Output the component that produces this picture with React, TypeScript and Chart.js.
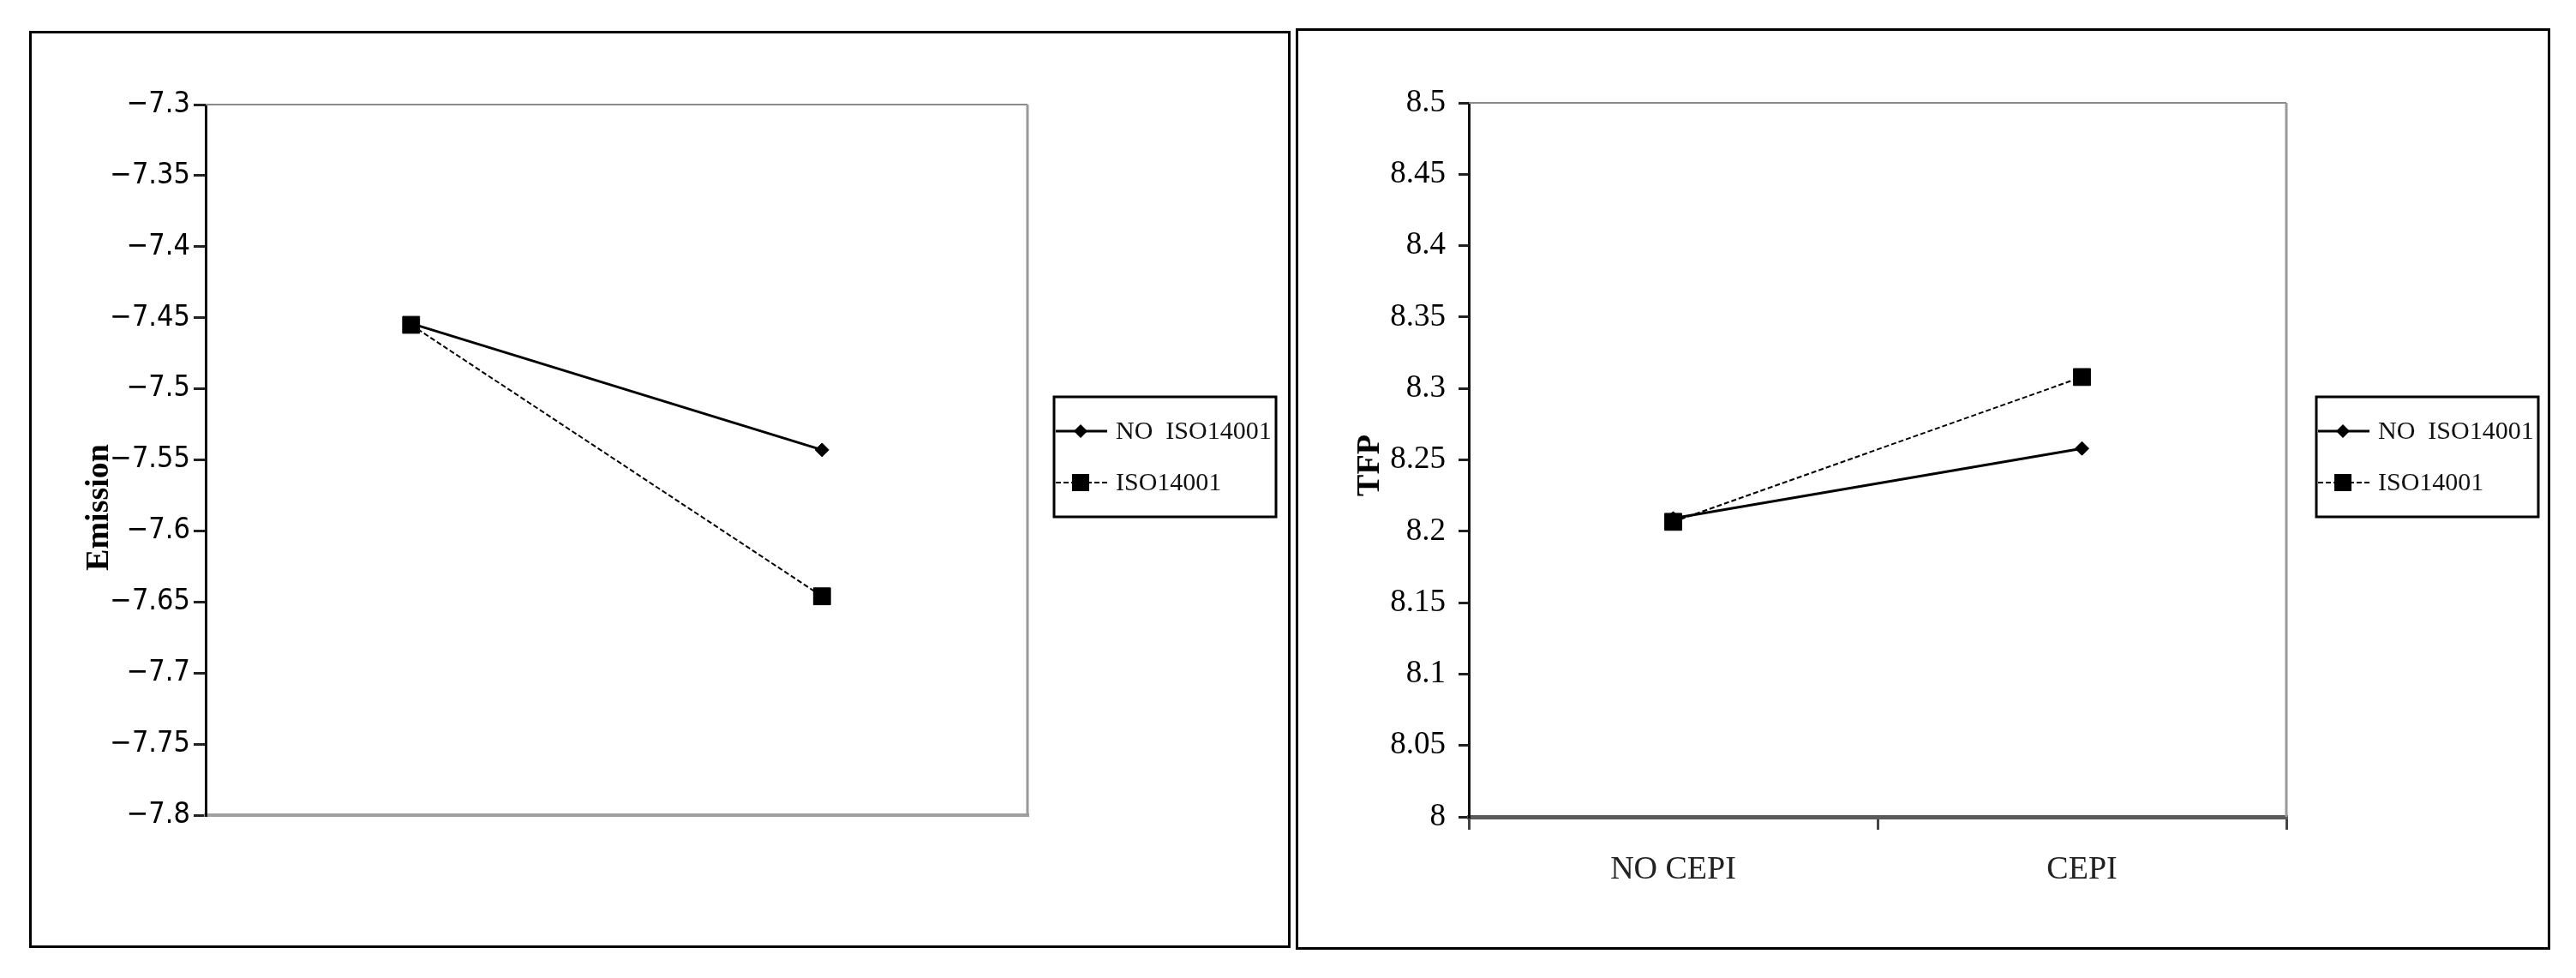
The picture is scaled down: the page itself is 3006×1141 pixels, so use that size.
import React, { useEffect, useRef } from 'react';
import { Chart, registerables } from 'chart.js';

Chart.register(...registerables);

// ---------- data ----------
const seriesNames = ['NO  ISO14001', 'ISO14001'];

const emissionCategories = ['', ''];
const emissionNoIso = [-7.454, -7.543];
const emissionIso = [-7.455, -7.646];
const emissionTickValues = [-7.8, -7.75, -7.7, -7.65, -7.6, -7.55, -7.5, -7.45, -7.4, -7.35, -7.3];
const emissionTickLabels = ['−7.8', '−7.75', '−7.7', '−7.65', '−7.6', '−7.55', '−7.5', '−7.45', '−7.4', '−7.35', '−7.3'];
const emissionTitle = 'Emission';

const tfpCategories = ['NO CEPI', 'CEPI'];
const tfpNoIso = [8.209, 8.258];
const tfpIso = [8.2066, 8.308];
const tfpTickValues = [8, 8.05, 8.1, 8.15, 8.2, 8.25, 8.3, 8.35, 8.4, 8.45, 8.5];
const tfpTickLabels = ['8', '8.05', '8.1', '8.15', '8.2', '8.25', '8.3', '8.35', '8.4', '8.45', '8.5'];
const tfpTitle = 'TFP';

const SERIF = '"Liberation Serif", "Times New Roman", serif';
const NARROW = '"Liberation Sans Narrow", "DejaVu Sans Condensed", "Liberation Sans", sans-serif';

type PanelCfg = {
  left: number; top: number; width: number; height: number;
  categories: string[]; noIso: number[]; iso: number[];
  tickValues: number[]; tickLabels: string[]; title: string;
  tickFont: string; tickSize: number; tickPadding: number; yTickLength: number;
  padTop: number; padRight: number; yWidth: number; xHeight: number;
  showXTicks: boolean; xBorderColor: string; xBorderWidth: number;
  titleX: number; titleY: number;
  legendDx: number; legendDy: number;
};

const leftCfg: PanelCfg = {
  left: 34, top: 36, width: 1472, height: 1070,
  categories: emissionCategories, noIso: emissionNoIso, iso: emissionIso,
  tickValues: emissionTickValues, tickLabels: emissionTickLabels, title: emissionTitle,
  tickFont: NARROW, tickSize: 34, tickPadding: 4, yTickLength: 14,
  padTop: 83, padRight: 304, yWidth: 203, xHeight: 152,
  showXTicks: false, xBorderColor: '#a0a0a0', xBorderWidth: 4,
  titleX: 79, titleY: 553,
  legendDx: 31, legendDy: 341,
};

const rightCfg: PanelCfg = {
  left: 1512, top: 33, width: 1464, height: 1075,
  categories: tfpCategories, noIso: tfpNoIso, iso: tfpIso,
  tickValues: tfpTickValues, tickLabels: tfpTickLabels, title: tfpTitle,
  tickFont: SERIF, tickSize: 37, tickPadding: 15, yTickLength: 12,
  padTop: 84, padRight: 305, yWidth: 199, xHeight: 152,
  showXTicks: true, xBorderColor: '#5a5a5a', xBorderWidth: 5,
  titleX: 84, titleY: 507,
  legendDx: 35, legendDy: 343,
};

function drawDiamond(ctx: CanvasRenderingContext2D, x: number, y: number, r: number) {
  ctx.beginPath();
  ctx.moveTo(x - r, y);
  ctx.lineTo(x, y - r);
  ctx.lineTo(x + r, y);
  ctx.lineTo(x, y + r);
  ctx.closePath();
  ctx.fill();
}

function makeChart(canvas: HTMLCanvasElement, p: PanelCfg) {
  const deco = {
    id: 'panelDeco',
    beforeDatasetsDraw(chart: any) {
      const { ctx, chartArea: a } = chart;
      ctx.save();
      ctx.strokeStyle = '#8a8a8a';
      ctx.lineWidth = 2;
      ctx.beginPath();
      ctx.moveTo(a.left, a.top);
      ctx.lineTo(a.right, a.top);
      ctx.stroke();
      ctx.strokeStyle = '#9a9a9a';
      ctx.lineWidth = 3;
      ctx.beginPath();
      ctx.moveTo(a.right, a.top);
      ctx.lineTo(a.right, a.bottom);
      ctx.stroke();
      ctx.restore();
    },
    afterDraw(chart: any) {
      const { ctx, chartArea: a } = chart;
      ctx.save();
      // axis title
      ctx.translate(p.titleX, p.titleY);
      ctx.rotate(-Math.PI / 2);
      ctx.font = `bold 38px ${SERIF}`;
      ctx.fillStyle = '#000';
      ctx.textAlign = 'center';
      ctx.textBaseline = 'middle';
      ctx.fillText(p.title, 0, 0);
      ctx.restore();

      // legend
      const bx = a.right + p.legendDx;
      const by = a.top + p.legendDy;
      const bw = 259;
      const bh = 140;
      ctx.save();
      ctx.strokeStyle = '#000';
      ctx.lineWidth = 3;
      ctx.strokeRect(bx, by, bw, bh);
      for (let i = 0; i < seriesNames.length; i++) {
        const y = by + 40 + i * 60;
        ctx.strokeStyle = '#000';
        ctx.fillStyle = '#000';
        if (i === 0) {
          ctx.setLineDash([]);
          ctx.lineWidth = 3;
        } else {
          ctx.setLineDash([6, 3]);
          ctx.lineWidth = 2;
        }
        ctx.beginPath();
        ctx.moveTo(bx + 2, y);
        ctx.lineTo(bx + 62, y);
        ctx.stroke();
        ctx.setLineDash([]);
        if (i === 0) {
          drawDiamond(ctx, bx + 31, y, 8);
        } else {
          ctx.fillRect(bx + 31 - 10, y - 10, 20, 20);
        }
        ctx.font = `30px ${SERIF}`;
        ctx.fillStyle = '#111';
        ctx.textAlign = 'left';
        ctx.textBaseline = 'middle';
        ctx.fillText(seriesNames[i], bx + 72, y + 1);
      }
      ctx.restore();
    },
  };

  return new Chart(canvas, {
    type: 'line',
    data: {
      labels: p.categories,
      datasets: [
        {
          label: seriesNames[0],
          data: p.noIso,
          borderColor: '#000',
          backgroundColor: '#000',
          borderWidth: 3,
          pointStyle: 'rectRot',
          pointRadius: 8,
          pointBorderWidth: 1,
          pointBorderColor: '#000',
          pointBackgroundColor: '#000',
          tension: 0,
          order: 1,
        },
        {
          label: seriesNames[1],
          data: p.iso,
          borderColor: '#000',
          backgroundColor: '#000',
          borderWidth: 2,
          borderDash: [6, 3],
          pointStyle: 'rect',
          pointRadius: 14,
          pointBorderWidth: 1,
          pointBorderColor: '#000',
          pointBackgroundColor: '#000',
          tension: 0,
          order: 0,
        },
      ],
    },
    options: {
      responsive: false,
      maintainAspectRatio: false,
      animation: false,
      devicePixelRatio: 1,
      layout: { padding: { top: p.padTop, right: p.padRight, bottom: 0, left: 0 } },
      plugins: {
        legend: { display: false },
        tooltip: { enabled: false },
        title: { display: false },
      },
      scales: {
        x: {
          type: 'category',
          offset: true,
          grid: {
            display: p.showXTicks,
            offset: true,
            drawOnChartArea: false,
            drawTicks: true,
            tickLength: 15,
            tickWidth: 3,
            tickColor: '#444',
            lineWidth: 3,
            color: '#444',
          },
          border: { display: true, color: p.xBorderColor, width: p.xBorderWidth },
          ticks: {
            display: p.showXTicks,
            font: { family: SERIF, size: 38 },
            color: '#222',
            padding: 24,
            maxRotation: 0,
          },
          afterFit: (s: any) => {
            s.height = p.xHeight;
          },
        },
        y: {
          type: 'linear',
          min: p.tickValues[0],
          max: p.tickValues[p.tickValues.length - 1],
          afterBuildTicks: (s: any) => {
            s.ticks = p.tickValues.map((v) => ({ value: v }));
          },
          ticks: {
            callback: (_v: any, i: number) => p.tickLabels[i],
            font: { family: p.tickFont, size: p.tickSize },
            color: '#000',
            padding: p.tickPadding,
          },
          grid: {
            display: true,
            drawOnChartArea: false,
            drawTicks: true,
            tickLength: p.yTickLength,
            tickWidth: 3,
            tickColor: '#222',
            lineWidth: 3,
            color: '#222',
          },
          border: { display: true, color: '#111', width: 3 },
          afterFit: (s: any) => {
            s.width = p.yWidth;
          },
        },
      },
    } as any,
    plugins: [deco],
  });
}

function Panel({ cfg }: { cfg: PanelCfg }) {
  const ref = useRef<HTMLCanvasElement | null>(null);
  const cw = cfg.width - 6;
  const ch = cfg.height - 6;
  useEffect(() => {
    if (!ref.current) return;
    const chart = makeChart(ref.current, cfg);
    return () => chart.destroy();
  }, [cfg]);
  return (
    <div
      style={{
        position: 'absolute',
        left: cfg.left,
        top: cfg.top,
        width: cfg.width,
        height: cfg.height,
        border: '3px solid #000',
        boxSizing: 'border-box',
        background: '#fff',
      }}
    >
      <canvas ref={ref} width={cw} height={ch} style={{ display: 'block', width: cw, height: ch }} />
    </div>
  );
}

export default function App() {
  return (
    <div style={{ position: 'absolute', left: 0, top: 0, width: 3006, height: 1141, background: '#fff' }}>
      <Panel cfg={leftCfg} />
      <Panel cfg={rightCfg} />
    </div>
  );
}
